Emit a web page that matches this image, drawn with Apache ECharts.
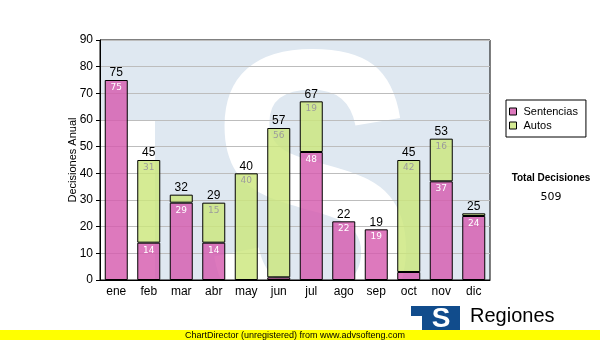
<!DOCTYPE html>
<html>
<head>
<meta charset="utf-8">
<script src="https://cdn.jsdelivr.net/npm/echarts@6/dist/echarts.min.js"></script>
<style>html,body{margin:0;padding:0;background:#fff;}#c{width:600px;height:340px;}</style>
</head>
<body>
<div id="c"></div>
<script>
const months = ['ene','feb','mar','abr','may','jun','jul','ago','sep','oct','nov','dic'];
const sentencias = [75,14,29,14,0,1,48,22,19,3,37,24];
const autos = [0,31,3,15,40,56,19,0,0,42,16,1];
const seriesNames = ['Sentencias','Autos'];
const yAxisTitle = 'Decisiones Anual';
const totalTitle = 'Total Decisiones';

const totals = months.map((m,i) => sentencias[i] + autos[i]);
const grandTotal = totals.reduce((a,b) => a + b, 0);
const noZero = arr => arr.map(v => (v === 0 ? '-' : v));

const G = {left:100, top:40, width:390, height:240};
const chart = echarts.init(document.getElementById('c'), null, {renderer:'canvas'});
const innerFmt = p => (p.value >= 5 ? String(p.value) : '');

chart.setOption({
  animation: false,
  grid: {left:G.left, top:G.top, width:G.width, height:G.height, show:true, borderColor:'#000', borderWidth:1, backgroundColor:'transparent'},
  graphic: [
    {type:'rect', z:-10, shape:{x:G.left, y:G.top, width:G.width, height:G.height}, style:{fill:'#dfe8f1'}},
    {type:'rect', z:-9, shape:{x:G.left, y:120, width:55, height:160}, style:{fill:'#ffffff'}},
    {type:'text', z:-9, x:205, y:18, scaleX:0.8, style:{text:'S', fill:'#ffffff', font:'bold 400px "Liberation Sans"', textVerticalAlign:'top'}},
    {type:'text', x:551, y:178, style:{text:totalTitle, fill:'#000', font:'bold 10px "Liberation Sans"', textAlign:'center', textVerticalAlign:'middle'}},
    {type:'text', x:551, y:197, style:{text:String(grandTotal), fill:'#000', font:'11px "DejaVu Sans"', textAlign:'center', textVerticalAlign:'middle'}},
    {type:'rect', shape:{x:0, y:330, width:600, height:10}, style:{fill:'#ffff00'}},
    {type:'text', x:295, y:335.5, style:{text:'ChartDirector (unregistered) from www.advsofteng.com', fill:'#000', font:'9px "Liberation Sans"', textAlign:'center', textVerticalAlign:'middle'}},
    {type:'rect', shape:{x:411, y:306, width:49, height:24}, style:{fill:'#114c8c'}},
    {type:'rect', shape:{x:411, y:316, width:11, height:14}, style:{fill:'#ffffff'}},
    {type:'text', x:441, y:319, style:{text:'S', fill:'#ffffff', font:'bold 28px "Liberation Sans"', textAlign:'center', textVerticalAlign:'middle'}},
    {type:'text', x:470, y:316, style:{text:'Regiones', fill:'#000', font:'20px "Liberation Sans"', textAlign:'left', textVerticalAlign:'middle'}}
  ],
  legend: {
    orient:'vertical', left:506, top:100, padding:[6,8,6,3], itemGap:3,
    backgroundColor:'#fff', borderColor:'#000', borderWidth:1,
    icon:'rect', itemWidth:7, itemHeight:7,
    itemStyle:{borderColor:'#000', borderWidth:1},
    textStyle:{fontFamily:'Liberation Sans', fontSize:11, color:'#000', padding:[0,0,0,2]},
    data: seriesNames
  },
  xAxis: {
    type:'category', data:months,
    axisLine:{lineStyle:{color:'#000', width:1}},
    axisTick:{alignWithLabel:true, length:4, lineStyle:{color:'#000'}},
    axisLabel:{color:'#000', fontFamily:'Liberation Sans', fontSize:12, margin:6}
  },
  yAxis: {
    type:'value', min:0, max:90, interval:10,
    name:yAxisTitle, nameLocation:'middle', nameGap:22, nameRotate:90, nameMoveOverlap:false,
    nameTextStyle:{color:'#000', fontFamily:'Liberation Sans', fontSize:11},
    axisLine:{show:true, lineStyle:{color:'#000', width:1}},
    axisTick:{show:true, length:4, lineStyle:{color:'#000'}},
    axisLabel:{color:'#000', fontFamily:'Liberation Sans', fontSize:12, margin:7},
    splitLine:{lineStyle:{color:'#bdbdbd', width:1}}
  },
  series: [
    {name:seriesNames[0], type:'bar', stack:'d', barWidth:23, data:noZero(sentencias),
     itemStyle:{color:'rgba(214,92,174,0.82)', borderColor:'#000', borderWidth:1},
     label:{show:true, position:'insideTop', distance:3, color:'#ffffff', fontFamily:'DejaVu Sans', fontSize:9, formatter:innerFmt}},
    {name:seriesNames[1], type:'bar', stack:'d', barWidth:23, data:noZero(autos),
     itemStyle:{color:'rgba(204,230,124,0.82)', borderColor:'#000', borderWidth:1},
     label:{show:true, position:'insideTop', distance:3, color:'#9c9c9c', fontFamily:'DejaVu Sans', fontSize:9, formatter:innerFmt}},
    {name:'total', type:'bar', barWidth:23, barGap:'-100%', data:totals, silent:true, z:1,
     itemStyle:{color:'rgba(0,0,0,0)'},
     label:{show:true, position:'top', distance:1, color:'#000', fontFamily:'Liberation Sans', fontSize:12}}
  ]
});
</script>
</body>
</html>
